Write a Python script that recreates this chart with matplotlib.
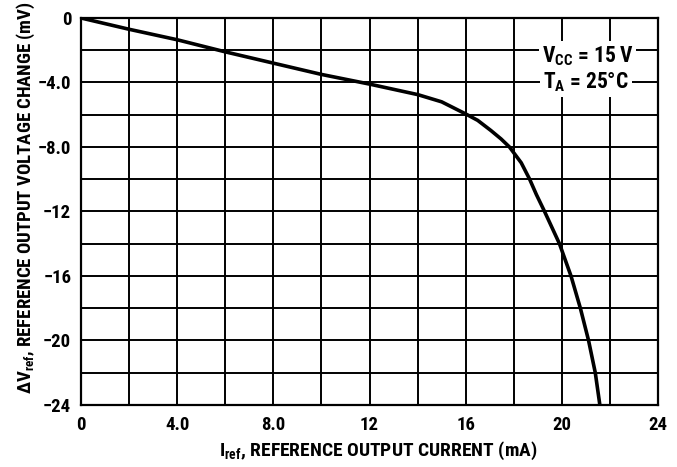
import matplotlib
matplotlib.use("Agg")
import matplotlib.pyplot as plt
from matplotlib.ticker import MultipleLocator

plt.rcParams['font.family'] = ['Roboto Condensed', 'DejaVu Sans']
plt.rcParams['font.weight'] = 'semibold'
plt.rcParams['axes.labelweight'] = 'semibold'
plt.rcParams['mathtext.fontset'] = 'custom'
plt.rcParams['mathtext.rm'] = 'Roboto Condensed:semibold'

# curve
iref_ma = [0, 2, 4, 6, 8, 10, 12, 14, 15, 16, 16.5, 17.05, 17.47, 17.82,
           18.31, 18.66, 18.94, 19.28, 19.9, 20.38, 20.77, 21.11, 21.39, 21.58]
dvref_mv = [0, -0.7, -1.35, -2.1, -2.8, -3.5, -4.1, -4.75, -5.2, -5.95,
            -6.35, -6.98, -7.5, -8.0, -8.98, -10, -10.95, -12, -14, -16,
            -18, -20, -22, -24]

x_ticks = [0, 4, 8, 12, 16, 20, 24]
x_labels = ['0', '4.0', '8.0', '12', '16', '20', '24']
y_ticks = [0, -4, -8, -12, -16, -20, -24]
y_labels = ['0', '−4.0', '−8.0', '−12', '−16', '−20', '−24']

fig = plt.figure(figsize=(6.77, 4.67), dpi=100)
ax = fig.add_axes([0.1196, 0.1328, 0.8524, 0.8287])

ax.plot(iref_ma, dvref_mv, color='black', lw=2.6, zorder=4,
        solid_capstyle='butt', solid_joinstyle='round')

ax.set_xlim(0, 24)
ax.set_ylim(-24, 0)
ax.set_xticks(x_ticks)
ax.set_xticklabels(x_labels)
ax.set_yticks(y_ticks)
ax.set_yticklabels(y_labels)
ax.xaxis.set_minor_locator(MultipleLocator(2))
ax.yaxis.set_minor_locator(MultipleLocator(2))
ax.grid(which='both', color='black', lw=1.4)
ax.tick_params(which='both', length=0)
ax.tick_params(axis='x', pad=8, labelsize=13.5)
ax.tick_params(axis='y', pad=7, labelsize=13.5)
for s in ax.spines.values():
    s.set_linewidth(1.6)

ax.set_xlabel(r'$\mathregular{I_{ref}}$, REFERENCE OUTPUT CURRENT (mA)', fontsize=14, va='center')
ax.set_ylabel(r'Δ$\mathregular{V_{ref}}$, REFERENCE OUTPUT VOLTAGE CHANGE (mV)', fontsize=13.5, va='center')
ax.xaxis.set_label_coords(0.515, -0.118)
ax.yaxis.set_label_coords(-0.095, 0.535)

box = dict(facecolor='white', edgecolor='none', pad=2)
ax.text(21.07, -2.35, r'$\mathregular{V_{CC}}$ = 15 V', ha='center', va='center',
        fontsize=15.5, bbox=box, zorder=5)
ax.text(21.0, -4.0, r'$\mathregular{T_A}$ = 25°C', ha='center', va='center',
        fontsize=15.5, bbox=box, zorder=5)

fig.savefig('out.png', dpi=100)
